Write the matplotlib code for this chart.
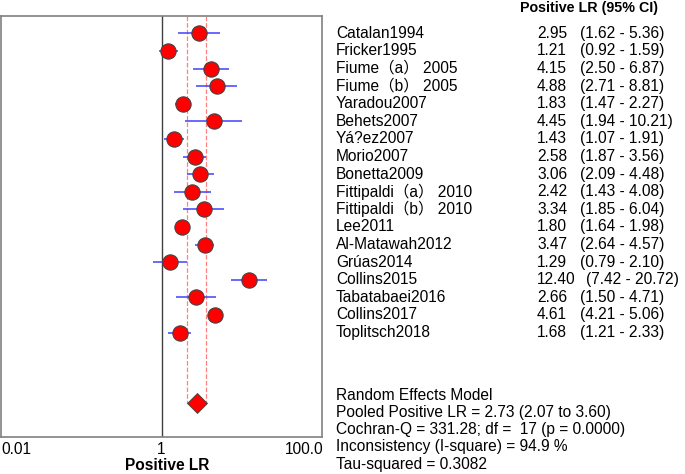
import matplotlib.pyplot as plt

plt.rcParams["font.family"] = ["Liberation Sans", "Noto Sans CJK SC", "DejaVu Sans"]

# Study data
studies = ["Catalan1994", "Fricker1995", "Fiume\uff08a\uff09 2005", "Fiume\uff08b\uff09 2005",
           "Yaradou2007", "Behets2007", "Yá?ez2007", "Morio2007", "Bonetta2009",
           "Fittipaldi\uff08a\uff09 2010", "Fittipaldi\uff08b\uff09 2010", "Lee2011",
           "Al-Matawah2012", "Grúas2014", "Collins2015", "Tabatabaei2016",
           "Collins2017", "Toplitsch2018"]
lr = [2.95, 1.21, 4.15, 4.88, 1.83, 4.45, 1.43, 2.58, 3.06, 2.42, 3.34, 1.80,
      3.47, 1.29, 12.40, 2.66, 4.61, 1.68]
lo = [1.62, 0.92, 2.50, 2.71, 1.47, 1.94, 1.07, 1.87, 2.09, 1.43, 1.85, 1.64,
      2.64, 0.79, 7.42, 1.50, 4.21, 1.21]
hi = [5.36, 1.59, 6.87, 8.81, 2.27, 10.21, 1.91, 3.56, 4.48, 4.08, 6.04, 1.98,
      4.57, 2.10, 20.72, 4.71, 5.06, 2.33]

pooled = 2.73
pooled_lo = 2.07
pooled_hi = 3.60

summary_lines = [
    "Random Effects Model",
    "Pooled Positive LR = 2.73 (2.07 to 3.60)",
    "Cochran-Q = 331.28; df =  17 (p = 0.0000)",
    "Inconsistency (I-square) = 94.9 %",
    "Tau-squared = 0.3082",
]

fig = plt.figure(figsize=(6.85, 4.74), dpi=100)
W, H = 685, 474
ax = fig.add_axes([1 / W, 1 - 437 / H, 321 / W, (437 - 15.7) / H])

n = len(studies)
rows = list(range(n))
pooled_row = n + 3

# pooled CI dashed box
ax.plot([pooled_lo, pooled_lo], [-1, pooled_row], color="#ff8080", ls="--", lw=0.9, zorder=1)
ax.plot([pooled_hi, pooled_hi], [-1, pooled_row], color="#ff8080", ls="--", lw=0.9, zorder=1)
ax.plot([pooled_lo, pooled_hi], [pooled_row, pooled_row], color="#ff8080", ls="--", lw=0.9, zorder=1)

ax.axvline(1, color="#404040", lw=1.0, zorder=1)

ax.hlines(rows, lo, hi, color="#4040ff", lw=1.1, zorder=2)
ax.plot(lr, rows, "o", ms=11, mfc="red", mec="#444444", mew=0.8, zorder=3)
ax.plot([pooled], [pooled_row], "D", ms=10, mfc="red", mec="#444444", mew=0.6, zorder=3)

ax.set_xscale("log")
ax.set_xlim(0.01, 100)
ax.set_ylim(pooled_row + 1.93, -1)
ax.set_yticks([])
ax.set_xticks([])
ax.minorticks_off()
for s in ax.spines.values():
    s.set_color("#808080")
    s.set_linewidth(1.2)

# x tick labels
fig.text(1 / W, 1 - 449 / H, "0.01", ha="left", va="center", fontsize=11.2)
fig.text(161.5 / W, 1 - 449 / H, "1", ha="center", va="center", fontsize=11.2)
fig.text(324 / W, 1 - 449 / H, "100.0", ha="right", va="center", fontsize=11.2)
fig.text(167 / W, 1 - 465 / H, "Positive LR", ha="center", va="center",
         fontsize=11.2, fontweight="bold")

# right-hand table
fig.text(520 / W, 1 - 8 / H, "Positive LR (95% CI)", ha="left", va="center",
         fontsize=10.3, fontweight="bold")


def row_y(r):
    return 1 - (33.3 + 17.6 * r) / H


for i, name in enumerate(studies):
    y = row_y(i)
    fig.text(336 / W, y, name, ha="left", va="center", fontsize=11.2)
    fig.text(537 / W, y, f"{lr[i]:.2f}", ha="left", va="center", fontsize=11.2)
    ci_x = 586 if lr[i] >= 10 else 580
    fig.text(ci_x / W, y, f"({lo[i]:.2f} - {hi[i]:.2f})", ha="left", va="center",
             fontsize=11.2)

for k, line in enumerate(summary_lines):
    fig.text(336 / W, 1 - (395 + 17.3 * k) / H, line, ha="left", va="center",
             fontsize=11.2)

fig.savefig("out.png", dpi=100)
